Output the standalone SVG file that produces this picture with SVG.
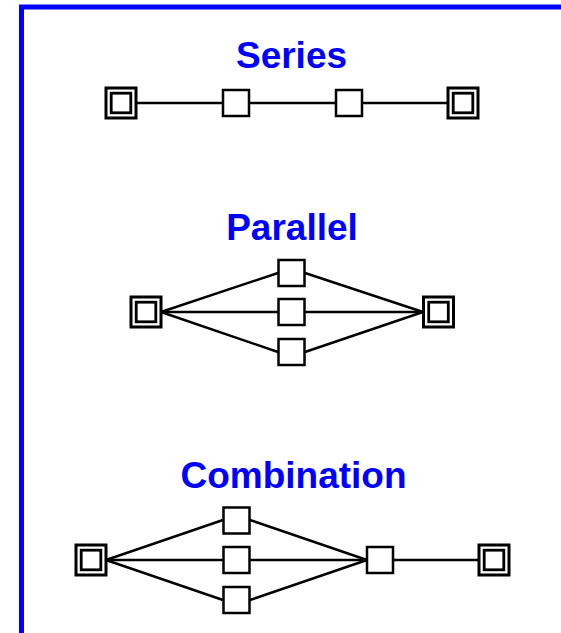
<svg xmlns="http://www.w3.org/2000/svg" width="561" height="633" viewBox="0 0 561 633">
  <style>
    .title { font-family: "Liberation Sans", Arial, sans-serif; font-weight: bold; font-size: 37px; fill: #0000ff; text-anchor: middle; }
    .edge { stroke: #000; stroke-width: 2.4; fill: none; }
    .box { fill: #fff; stroke: #000; stroke-width: 2.5; }
    .outer { fill: #fff; stroke: #000; stroke-width: 3; }
    .inner { fill: #fff; stroke: #000; stroke-width: 2.8; }
  </style>
  <defs>
    <!-- terminal: double square, centred on origin -->
    <g id="terminal">
      <rect class="outer" x="-15" y="-15" width="30" height="30"/>
      <rect class="inner" x="-9.8" y="-9.8" width="19.6" height="19.6"/>
    </g>
    <!-- plain component box, centred on origin -->
    <rect id="block" class="box" x="-13" y="-13" width="26" height="26"/>
  </defs>

  <rect x="0" y="0" width="561" height="633" fill="#fff"/>
  <!-- frame -->
  <rect x="21.5" y="7" width="620" height="700" fill="none" stroke="#0000ff" stroke-width="5"/>

  <!-- headings -->
  <text class="title" x="291.5" y="68">Series</text>
  <text class="title" x="292" y="240">Parallel</text>
  <text class="title" x="293.5" y="488">Combination</text>

  <g id="connectors">
    <!-- series -->
    <line class="edge" x1="136" y1="103" x2="448" y2="103"/>
    <!-- parallel -->
    <line class="edge" x1="161" y1="312" x2="278" y2="273"/>
    <line class="edge" x1="161" y1="312" x2="423" y2="312"/>
    <line class="edge" x1="161" y1="312" x2="278" y2="352"/>
    <line class="edge" x1="305" y1="273" x2="423" y2="312"/>
    <line class="edge" x1="305" y1="352" x2="423" y2="312"/>
    <!-- combination -->
    <line class="edge" x1="106" y1="560" x2="223" y2="520"/>
    <line class="edge" x1="106" y1="560" x2="479" y2="560"/>
    <line class="edge" x1="106" y1="560" x2="223" y2="600"/>
    <line class="edge" x1="250" y1="520" x2="367" y2="560"/>
    <line class="edge" x1="250" y1="600" x2="367" y2="560"/>
  </g>

  <!-- series nodes -->
  <g id="s-in"><use href="#terminal" x="121" y="103"/></g>
  <g id="s-a"><use href="#block" x="236" y="103"/></g>
  <g id="s-b"><use href="#block" x="349" y="103"/></g>
  <g id="s-out"><use href="#terminal" x="463" y="103"/></g>

  <!-- parallel nodes -->
  <g id="p-in"><use href="#terminal" x="146" y="312"/></g>
  <g id="p-a"><use href="#block" x="291.5" y="273"/></g>
  <g id="p-b"><use href="#block" x="291.5" y="312"/></g>
  <g id="p-c"><use href="#block" x="291.5" y="352"/></g>
  <g id="p-out"><use href="#terminal" x="438.5" y="312"/></g>

  <!-- combination nodes -->
  <g id="c-in"><use href="#terminal" x="91" y="560"/></g>
  <g id="c-a"><use href="#block" x="236.5" y="520.5"/></g>
  <g id="c-b"><use href="#block" x="236.5" y="560"/></g>
  <g id="c-c"><use href="#block" x="236.5" y="600"/></g>
  <g id="c-d"><use href="#block" x="380" y="560"/></g>
  <g id="c-out"><use href="#terminal" x="494" y="560"/></g>
</svg>
